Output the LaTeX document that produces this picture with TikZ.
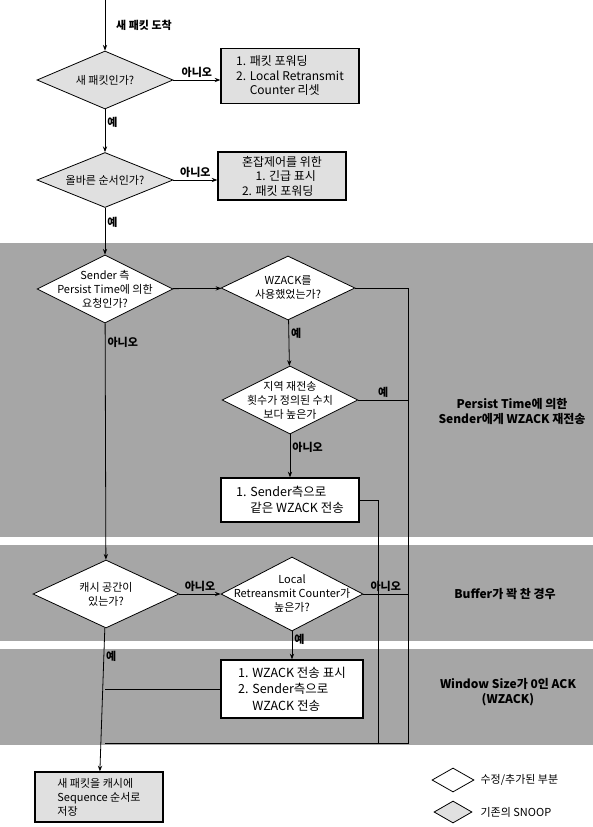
\documentclass[tikz,border=0pt]{standalone}
\usepackage{fontspec}
\setmainfont{Noto Sans CJK KR}
\usetikzlibrary{arrows.meta, positioning, shapes.geometric}

\begin{document}
\begin{tikzpicture}[
    x=1pt, y=-1pt,
    dia/.style={draw, thick, shape=diamond, aspect=2, inner xsep=-22pt, inner ysep=-15pt, minimum width=136pt, minimum height=64pt, font=\fontsize{11}{14}\selectfont, align=center, fill=#1},
    box/.style={draw, line width=1.3pt, minimum width=138pt, minimum height=52pt, font=\fontsize{12}{14.5}\selectfont, align=left, fill=#1},
    arr/.style={-{Stealth[length=2mm]}, thick},
    lbl/.style={font=\fontsize{11}{12}\selectfont\bfseries, inner sep=2pt},
    note/.style={font=\fontsize{12}{15}\selectfont\bfseries, align=center},
    leg/.style={draw, thick, shape=diamond, minimum width=42pt, minimum height=24pt, inner sep=0pt, fill=#1},
    >=Stealth
]
\useasboundingbox (0,0) rectangle (593,827);

% shaded bands
\fill[black!35] (0,243) rectangle (593,537);
\fill[black!35] (0,545) rectangle (593,641);
\fill[black!35] (0,649) rectangle (593,745);

% arrival
\coordinate (start) at (105,0);
\node[lbl, anchor=west] (arrive) at (114,25) {새 패킷 도착};

% new packet?
\node[dia=black!12, minimum height=58pt] (newpkt) at (105,80) {새 패킷인가?};
\draw[arr] (start) -- (newpkt);

% forward + reset
\node[box=black!12, minimum height=55pt] (fwd) at (290,76) {1. 패킷 포워딩\\2. Local Retransmit\\\phantom{2. }Counter 리셋};
\draw[arr] (newpkt.east) -- node[lbl, above] (no1) {아니오} (newpkt.east -| fwd.west);

% in order?
\node[dia=black!12, minimum height=55pt] (order) at (105,180) {올바른 순서인가?};
\draw[arr] (newpkt) -- node[lbl, right, pos=0.3] (yes1) {예} (order);

% out of order
\node[box=black!12, minimum width=128pt, minimum height=48pt] (mark) at (282,176) {혼잡제어를 위한\\\phantom{2. }1. 긴급 표시\\2. 패킷 포워딩};
\draw[arr] (order.east) -- node[lbl, above] (no2) {아니오} (order.east -| mark.west);

% persist time?
\node[dia=white, minimum height=68pt] (persist) at (105,289) {Sender 측\\Persist Time에 의한\\요청인가?};
\draw[arr] (order) -- node[lbl, right, pos=0.3] (yes2) {예} (persist);

% WZACK used?
\node[dia=white, minimum width=134pt] (wzack) at (288,288) {WZACK를\\사용했었는가?};
\draw[arr] (persist) -- (wzack);

% local retransmissions over limit?
\node[dia=white, minimum height=68pt] (limit) at (290,400) {지역 재전송\\횟수가 정의된 수치\\보다 높은가};
\draw[arr] (wzack) -- node[lbl, right, pos=0.3] (yes3) {예} (limit);

% same WZACK again
\node[box=white, minimum height=44pt, font=\fontsize{12.5}{15.5}\selectfont] (resend) at (290,500) {1. Sender측으로\\\phantom{1. }같은 WZACK 전송};
\draw[arr] (limit) -- node[lbl, right, pos=0.3] (no3) {아니오} (resend);

% cache space?
\node[dia=white, minimum width=146pt, minimum height=68pt] (cache) at (106,594) {캐시 공간이\\있는가?};
\draw[arr] (persist) -- node[lbl, right, pos=0.08] (no4) {아니오} (cache);

% local counter high?
\node[dia=white, minimum width=142pt, minimum height=74pt] (localcnt) at (292,594) {Local\\Retreansmit Counter가\\높은가?};
\draw[arr] (cache) -- node[lbl, above] (no5) {아니오} (localcnt);

% send WZACK
\node[box=white, minimum width=142pt, minimum height=58pt, font=\fontsize{12.5}{16.5}\selectfont] (sendwz) at (292,689) {1. WZACK 전송 표시\\2. Sender측으로\\\phantom{2. }WZACK 전송};
\draw[arr] (localcnt) -- node[lbl, right, pos=0.3] (yes5) {예} (sendwz);

% return rails
\coordinate (railtop) at (408,288);
\coordinate (railbot) at (408,743);
\coordinate (merge) at (105,743);
\coordinate (inner) at (378,500);
\coordinate (innerbot) at (378,743);
\coordinate (sidejoin) at (105,689);
\draw[thick] (wzack.east) -- (railtop) -- (railbot) -- (merge);
\draw[thick] (limit.east) -- node[lbl, above] (yes4) {예} (limit.east -| railtop);
\draw[thick] (localcnt.east) -- node[lbl, above] (no6) {아니오} (localcnt.east -| railtop);
\draw[thick] (resend.east) -- (inner) -- (innerbot);
\draw[thick] (sendwz.west) -- (sidejoin);

% store in cache
\node[box=black!12, minimum width=128pt, minimum height=50pt, font=\fontsize{11}{14}\selectfont] (store) at (99,797) {새 패킷을 캐시에\\Sequence 순서로\\저장};
\draw[arr] (cache) -- node[lbl, right, pos=0.2] (yes6) {예} (store);

% notes
\node[note] (notepersist) at (512,412) {Persist Time에 의한\\Sender에게 WZACK 재전송};
\node[note] (notebuffer) at (505,594) {Buffer가 꽉 찬 경우};
\node[note] (notewin) at (508,692) {Window Size가 0인 ACK\\(WZACK)};

% legend
\node[leg=white] (legnew) at (453,780) {};
\node[lbl, font=\fontsize{11}{12}\selectfont, right=4pt of legnew] (legnewtxt) {수정/추가된 부분};
\node[leg=black!12, minimum width=38pt, minimum height=22pt] (legold) at (453,812) {};
\node[lbl, font=\fontsize{11}{12}\selectfont, right=6pt of legold] (legoldtxt) {기존의 SNOOP};

\end{tikzpicture}
\end{document}
